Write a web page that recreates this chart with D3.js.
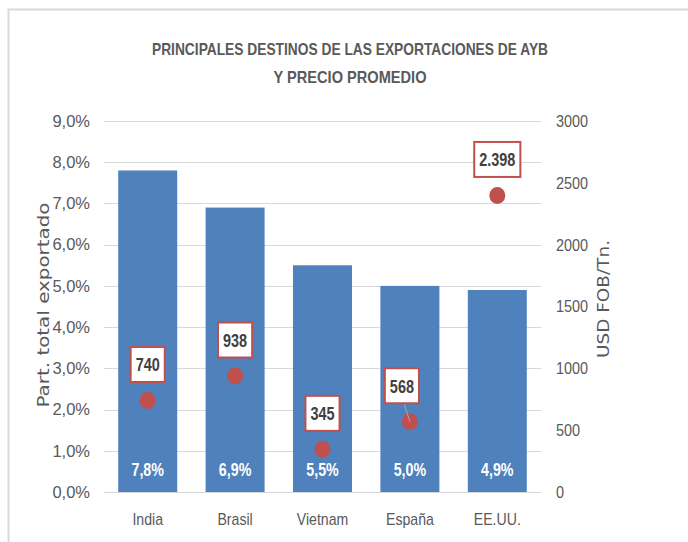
<!DOCTYPE html>
<html>
<head>
<meta charset="utf-8">
<script src="https://cdn.jsdelivr.net/npm/d3@7/dist/d3.min.js"></script>
<style>
  body { margin: 0; background: #fff; }
  text { font-family: "Liberation Sans", Arial, sans-serif; }
</style>
</head>
<body>
<svg id="chart" width="688" height="542"></svg>
<script>
// data
var paises = ["India", "Brasil", "Vietnam", "España", "EE.UU."];
var participacion = [7.8, 6.9, 5.5, 5.0, 4.9];
var precio = [740, 938, 345, 568, 2398];
var precioEtiquetas = ["740", "938", "345", "568", "2.398"];
var ticksIzq = [0, 1, 2, 3, 4, 5, 6, 7, 8, 9];
var ticksDer = [0, 500, 1000, 1500, 2000, 2500, 3000];

var svg = d3.select("#chart");
var gris = "#595959";

// estrecha el texto (imitando Calibri)
function estrechar(sel, f) {
    sel.each(function() {
        var w = this.getComputedTextLength();
        d3.select(this).attr("textLength", w * f).attr("lengthAdjust", "spacingAndGlyphs");
    });
}

// marco
svg.append("path")
    .attr("d", "M8.5,542 V9.5 H688")
    .attr("fill", "none")
    .attr("stroke", "#d9d9d9")
    .attr("stroke-width", 2);

var x = d3.scaleBand().domain(paises).range([104, 541]).paddingInner(0.325).paddingOuter(0.1625);
var yL = d3.scaleLinear().domain([0, 9]).range([492, 121]);
var yR = d3.scaleLinear().domain([0, 3000]).range([492, 121]);

// titulo
var titulo = svg.append("g")
    .attr("fill", gris)
    .style("font-weight", "bold")
    .style("font-size", "16.5px");
titulo.append("text").attr("x", 350).attr("y", 55).attr("text-anchor", "middle")
    .attr("textLength", 396).attr("lengthAdjust", "spacingAndGlyphs")
    .text("PRINCIPALES DESTINOS DE LAS EXPORTACIONES DE AYB");
titulo.append("text").attr("x", 350).attr("y", 83).attr("text-anchor", "middle")
    .attr("textLength", 153).attr("lengthAdjust", "spacingAndGlyphs")
    .text("Y PRECIO PROMEDIO");

// grilla
svg.append("g").selectAll("line")
    .data(ticksIzq)
    .enter().append("line")
    .attr("x1", 104).attr("x2", 541)
    .attr("y1", function(d) { return Math.round(yL(d)) + 0.5; })
    .attr("y2", function(d) { return Math.round(yL(d)) + 0.5; })
    .attr("stroke", "#d9d9d9")
    .attr("stroke-width", 1);

// ejes
var ejeIzq = svg.append("g").attr("transform", "translate(104,0)")
    .call(d3.axisLeft(yL).tickValues(ticksIzq).tickSize(0).tickPadding(14)
        .tickFormat(function(d) { return d.toFixed(1).replace(".", ",") + "%"; }));
var ejeDer = svg.append("g").attr("transform", "translate(541,0)")
    .call(d3.axisRight(yR).tickValues(ticksDer).tickSize(0).tickPadding(15)
        .tickFormat(function(d) { return String(d); }));
var ejeX = svg.append("g").attr("transform", "translate(0,492)")
    .call(d3.axisBottom(x).tickSize(0).tickPadding(21));
[[ejeIzq, 1.0, 16.5], [ejeDer, 0.85, 17], [ejeX, 0.83, 17]].forEach(function(e) {
    var g = e[0];
    g.select(".domain").remove();
    g.selectAll("text").attr("fill", gris).style("font-size", e[2] + "px")
        .style("font-family", "'Liberation Sans', Arial, sans-serif");
    estrechar(g.selectAll("text"), e[1]);
});

// barras
svg.append("g").selectAll("rect")
    .data(participacion)
    .enter().append("rect")
    .attr("x", function(d, i) { return x(paises[i]); })
    .attr("width", x.bandwidth())
    .attr("y", function(d) { return yL(d); })
    .attr("height", function(d) { return yL(0) - yL(d); })
    .attr("fill", "#4F81BD");

var valores = svg.append("g").selectAll("text")
    .data(participacion)
    .enter().append("text")
    .attr("x", function(d, i) { return x(paises[i]) + x.bandwidth() / 2; })
    .attr("y", 476)
    .attr("text-anchor", "middle")
    .attr("fill", "#fff")
    .style("font-weight", "bold")
    .style("font-size", "19px")
    .text(function(d) { return d.toFixed(1).replace(".", ",") + "%"; });
estrechar(valores, 0.75);

// precio: puntos
var cx = function(i) { return x(paises[i]) + x.bandwidth() / 2; };
svg.append("g").selectAll("ellipse")
    .data(precio)
    .enter().append("ellipse")
    .attr("cx", function(d, i) { return cx(i); })
    .attr("cy", function(d) { return yR(d); })
    .attr("rx", 8).attr("ry", 8.5)
    .attr("fill", "#C0504D");

// linea guia España
svg.append("line")
    .attr("x1", cx(3) - 6).attr("y1", yR(precio[3]) - 19)
    .attr("x2", cx(3)).attr("y2", yR(precio[3]))
    .attr("stroke", "#a6a6a6").attr("stroke-width", 1);

// etiquetas de precio
var desplaz = [0, 0, 0, -8, 0];
var etiquetas = svg.append("g").selectAll("g")
    .data(precio)
    .enter().append("g")
    .attr("transform", function(d, i) { return "translate(" + (cx(i) + desplaz[i]) + "," + (yR(d) - 36) + ")"; });

var etqTexto = etiquetas.append("text")
    .attr("text-anchor", "middle")
    .attr("y", 7)
    .attr("fill", "#404040")
    .style("font-weight", "bold")
    .style("font-size", "19px")
    .text(function(d, i) { return precioEtiquetas[i]; });
estrechar(etqTexto, 0.76);
etiquetas.insert("rect", "text")
    .each(function() {
        var t = this.parentNode.querySelector("text");
        var w = +t.getAttribute("textLength") + 10;
        d3.select(this).attr("x", -w / 2).attr("width", w);
    })
    .attr("y", -17.5).attr("height", 35)
    .attr("fill", "#fff")
    .attr("stroke", "#C0504D")
    .attr("stroke-width", 2);

// titulos de ejes
svg.append("text")
    .attr("transform", "translate(49,305) rotate(-90)")
    .attr("text-anchor", "middle")
    .attr("fill", gris)
    .style("font-family", "'DejaVu Sans', sans-serif")
    .style("font-size", "16px")
    .attr("textLength", 205).attr("lengthAdjust", "spacingAndGlyphs")
    .text("Part. total exportado");
svg.append("text")
    .attr("transform", "translate(609,299) rotate(-90)")
    .attr("text-anchor", "middle")
    .attr("fill", gris)
    .style("font-family", "'DejaVu Sans', sans-serif")
    .style("font-size", "16px")
    .attr("textLength", 118).attr("lengthAdjust", "spacingAndGlyphs")
    .text("USD FOB/Tn.");
</script>
</body>
</html>
